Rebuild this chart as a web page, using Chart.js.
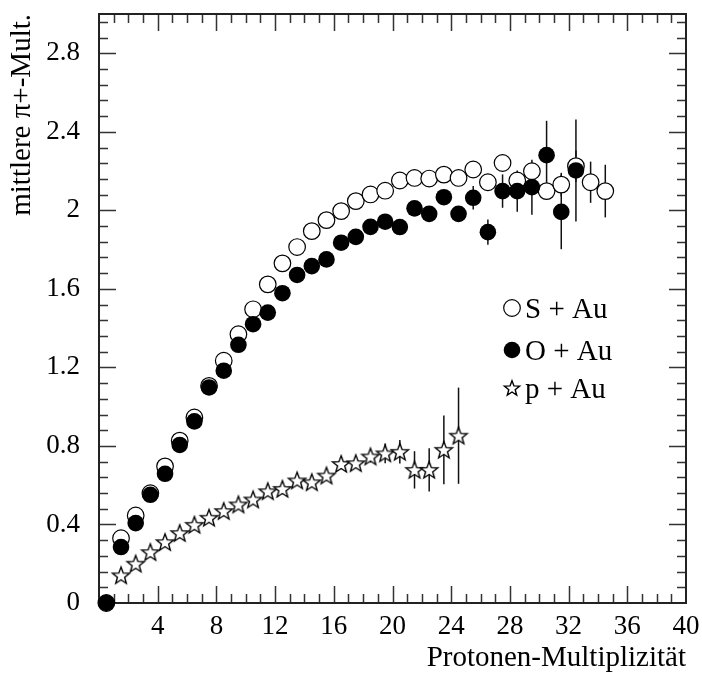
<!DOCTYPE html>
<html>
<head>
<meta charset="utf-8">
<script src="https://cdn.jsdelivr.net/npm/chart.js@4.4.1/dist/chart.umd.min.js"></script>
<style>
  html, body { margin: 0; padding: 0; background: #fff; }
  #chart { display: block; }
</style>
</head>
<body>
<canvas id="chart" width="702" height="677"></canvas>
<script>
// bin centres (Protonen-Multiplizität)
const bins = [0.5, 1.5, 2.5, 3.5, 4.5, 5.5, 6.5, 7.5, 8.5, 9.5, 10.5, 11.5, 12.5, 13.5, 14.5,
              15.5, 16.5, 17.5, 18.5, 19.5, 20.5, 21.5, 22.5, 23.5, 24.5, 25.5, 26.5, 27.5,
              28.5, 29.5, 30.5, 31.5, 32.5, 33.5, 34.5];

// S + Au (open circles)
const sAu = [0, 0.33, 0.446, 0.559, 0.696, 0.827, 0.945, 1.106, 1.234, 1.369, 1.496, 1.623,
             1.73, 1.813, 1.894, 1.95, 1.996, 2.047, 2.081, 2.10, 2.152, 2.165, 2.162, 2.182,
             2.165, 2.208, 2.143, 2.241, 2.152, 2.199, 2.098, 2.131, 2.225, 2.143, 2.098];
const sAuErr = [0, 0.01, 0.01, 0.01, 0.01, 0.01, 0.01, 0.01, 0.01, 0.01, 0.01, 0.01, 0.01,
                0.01, 0.01, 0.01, 0.01, 0.01, 0.01, 0.01, 0.01, 0.01, 0.01, 0.01, 0.02, 0.02,
                0.02, 0.03, 0.03, 0.04, 0.04, 0.06, 0.08, 0.105, 0.134];

// O + Au (filled circles)
const oAu = [0, 0.285, 0.407, 0.551, 0.658, 0.805, 0.925, 1.098, 1.183, 1.315, 1.42, 1.479,
             1.578, 1.671, 1.716, 1.75, 1.835, 1.865, 1.916, 1.942, 1.915, 2.01, 1.982, 2.067,
             1.982, 2.064, 1.889, 2.098, 2.098, 2.118, 2.281, 1.992, 2.203];
const oAuErr = [0, 0.01, 0.01, 0.01, 0.01, 0.01, 0.01, 0.01, 0.01, 0.01, 0.01, 0.01, 0.01,
                0.01, 0.01, 0.01, 0.01, 0.02, 0.02, 0.02, 0.02, 0.02, 0.02, 0.03, 0.03, 0.06,
                0.064, 0.085, 0.105, 0.14, 0.175, 0.19, 0.26];

// p + Au (stars)
const pAu = [null, 0.141, 0.2, 0.259, 0.31, 0.356, 0.398, 0.434, 0.468, 0.502, 0.527, 0.569,
             0.581, 0.624, 0.615, 0.649, 0.708, 0.712, 0.746, 0.762, 0.77, 0.678, 0.678, 0.78,
             0.852];
const pAuErr = [0, 0.005, 0.005, 0.005, 0.005, 0.005, 0.01, 0.01, 0.01, 0.01, 0.01, 0.01,
                0.01, 0.01, 0.015, 0.015, 0.02, 0.02, 0.03, 0.05, 0.06, 0.095, 0.11, 0.175,
                0.245];

const xTicks = [4, 8, 12, 16, 20, 24, 28, 32, 36, 40];
const yTicks = [0, 0.4, 0.8, 1.2, 1.6, 2, 2.4, 2.8];

const FONT = "'Liberation Serif', 'Times New Roman', serif";

function points(vals) {
    return vals.map((v, i) => ({ x: bins[i], y: v })).filter(p => p.y !== null);
}

// five-pointed open star used as marker
function starImage(r) {
    const size = Math.ceil(r * 2 + 4);
    const c = document.createElement('canvas');
    c.width = size; c.height = size;
    const ctx = c.getContext('2d');
    const cx = size / 2, cy = size / 2 + r * 0.08;
    ctx.beginPath();
    for (let k = 0; k < 10; k++) {
        const rad = k % 2 === 0 ? r : r * 0.42;
        const a = -Math.PI / 2 + k * Math.PI / 5;
        const px = cx + rad * Math.cos(a), py = cy + rad * Math.sin(a);
        if (k === 0) ctx.moveTo(px, py); else ctx.lineTo(px, py);
    }
    ctx.closePath();
    ctx.fillStyle = '#fff';
    ctx.fill();
    ctx.lineWidth = 1.4;
    ctx.strokeStyle = '#000';
    ctx.stroke();
    return c;
}
const star = starImage(9);
const starSmall = starImage(8);

// error bars, drawn under the markers
const errorBars = {
    id: 'errorBars',
    beforeDatasetsDraw(chart) {
        const ctx = chart.ctx, xs = chart.scales.x, ys = chart.scales.y;
        ctx.save();
        ctx.strokeStyle = '#111';
        ctx.lineWidth = 1.5;
        chart.data.datasets.forEach(ds => {
            ds.data.forEach((p, i) => {
                const e = ds.errors[i];
                if (!e) return;
                const px = xs.getPixelForValue(p.x);
                ctx.beginPath();
                ctx.moveTo(px, ys.getPixelForValue(p.y - e));
                ctx.lineTo(px, ys.getPixelForValue(p.y + e));
                ctx.stroke();
            });
        });
        ctx.restore();
    }
};

// frame with inward ticks on all four sides
const frame = {
    id: 'frame',
    beforeDatasetsDraw(chart) {
        const ctx = chart.ctx, a = chart.chartArea, xs = chart.scales.x, ys = chart.scales.y;
        ctx.save();
        ctx.strokeStyle = '#333';
        ctx.lineWidth = 1.5;
        for (let v = 1; v < 40; v++) {
            const px = Math.round(xs.getPixelForValue(v)) + 0.5;
            const len = v % 4 === 0 ? 17 : 9;
            ctx.beginPath();
            ctx.moveTo(px, a.bottom); ctx.lineTo(px, a.bottom - len);
            ctx.moveTo(px, a.top); ctx.lineTo(px, a.top + len);
            ctx.stroke();
        }
        for (let k = 1; k < 38; k++) {
            const py = Math.round(ys.getPixelForValue(k * 0.08)) + 0.5;
            const len = k % 5 === 0 ? 17 : 9;
            ctx.beginPath();
            ctx.moveTo(a.left, py); ctx.lineTo(a.left + len, py);
            ctx.moveTo(a.right, py); ctx.lineTo(a.right - len, py);
            ctx.stroke();
        }
        ctx.lineWidth = 2;
        ctx.strokeStyle = '#222';
        ctx.strokeRect(a.left, a.top, a.right - a.left, a.bottom - a.top);
        ctx.restore();
    }
};

// legend inside the plot
const innerLegend = {
    id: 'innerLegend',
    afterDraw(chart) {
        const ctx = chart.ctx, a = chart.chartArea;
        const sx = a.left + 413, tx = a.left + 426;
        const rows = [a.top + 294, a.top + 336, a.top + 374];
        ctx.save();
        ctx.lineWidth = 1.2;
        ctx.strokeStyle = '#000';
        ctx.beginPath();
        ctx.arc(sx, rows[0], 8.3, 0, Math.PI * 2);
        ctx.fillStyle = '#fff'; ctx.fill(); ctx.stroke();
        ctx.beginPath();
        ctx.arc(sx, rows[1], 8.3, 0, Math.PI * 2);
        ctx.fillStyle = '#000'; ctx.fill();
        ctx.drawImage(starSmall, sx - starSmall.width / 2, rows[2] - starSmall.height / 2);
        ctx.fillStyle = '#000';
        ctx.font = '29px ' + FONT;
        ctx.textBaseline = 'alphabetic';
        const labels = chart.data.datasets.map(d => d.label);
        ctx.fillText(labels[1], tx, rows[0] + 10);
        ctx.fillText(labels[0], tx, rows[1] + 10);
        ctx.fillText(labels[2], tx, rows[2] + 10);
        ctx.restore();
    }
};

new Chart(document.getElementById('chart'), {
    type: 'scatter',
    data: {
        datasets: [
            {
                label: 'O + Au',
                data: points(oAu),
                errors: oAuErr,
                pointStyle: 'circle',
                pointRadius: 8.3,
                backgroundColor: '#000',
                borderColor: '#000',
                borderWidth: 0,
                clip: false
            },
            {
                label: 'S + Au',
                data: points(sAu),
                errors: sAuErr,
                pointStyle: 'circle',
                pointRadius: 8.3,
                backgroundColor: '#fff',
                borderColor: '#000',
                borderWidth: 1.2,
                clip: false
            },
            {
                label: 'p + Au',
                data: points(pAu),
                errors: pAuErr.slice(1),
                pointStyle: star,
                pointRadius: 9,
                clip: false
            }
        ]
    },
    options: {
        responsive: false,
        animation: false,
        layout: { padding: { left: 0, right: 16, top: 14, bottom: 0 } },
        plugins: {
            legend: { display: false },
            tooltip: { enabled: false }
        },
        scales: {
            x: {
                type: 'linear',
                min: 0,
                max: 40,
                afterFit: s => { s.height = 74; s.paddingLeft = 0; s.paddingRight = 0; },
                afterBuildTicks: s => { s.ticks = xTicks.map(v => ({ value: v })); },
                grid: { display: false, drawTicks: false },
                border: { display: false },
                ticks: {
                    color: '#000',
                    padding: 8,
                    maxRotation: 0,
                    font: { family: FONT, size: 27 },
                    callback: v => String(v)
                },
                title: {
                    display: true,
                    text: 'Protonen-Multiplizität',
                    align: 'end',
                    color: '#000',
                    padding: { top: 0, bottom: 1 },
                    font: { family: FONT, size: 29 }
                }
            },
            y: {
                type: 'linear',
                min: 0,
                max: 3,
                afterFit: s => { s.width = 99; s.paddingTop = 0; s.paddingBottom = 0; },
                afterBuildTicks: s => { s.ticks = yTicks.map(v => ({ value: v })); },
                grid: { display: false, drawTicks: false },
                border: { display: false },
                ticks: {
                    color: '#000',
                    padding: 19,
                    font: { family: FONT, size: 27 },
                    callback: v => String(Math.round(v * 10) / 10)
                },
                title: {
                    display: true,
                    text: 'mittlere π+-Mult.',
                    align: 'end',
                    color: '#000',
                    padding: { top: 5, bottom: 0 },
                    font: { family: FONT, size: 29 }
                }
            }
        }
    },
    plugins: [errorBars, frame, innerLegend]
});
</script>
</body>
</html>
